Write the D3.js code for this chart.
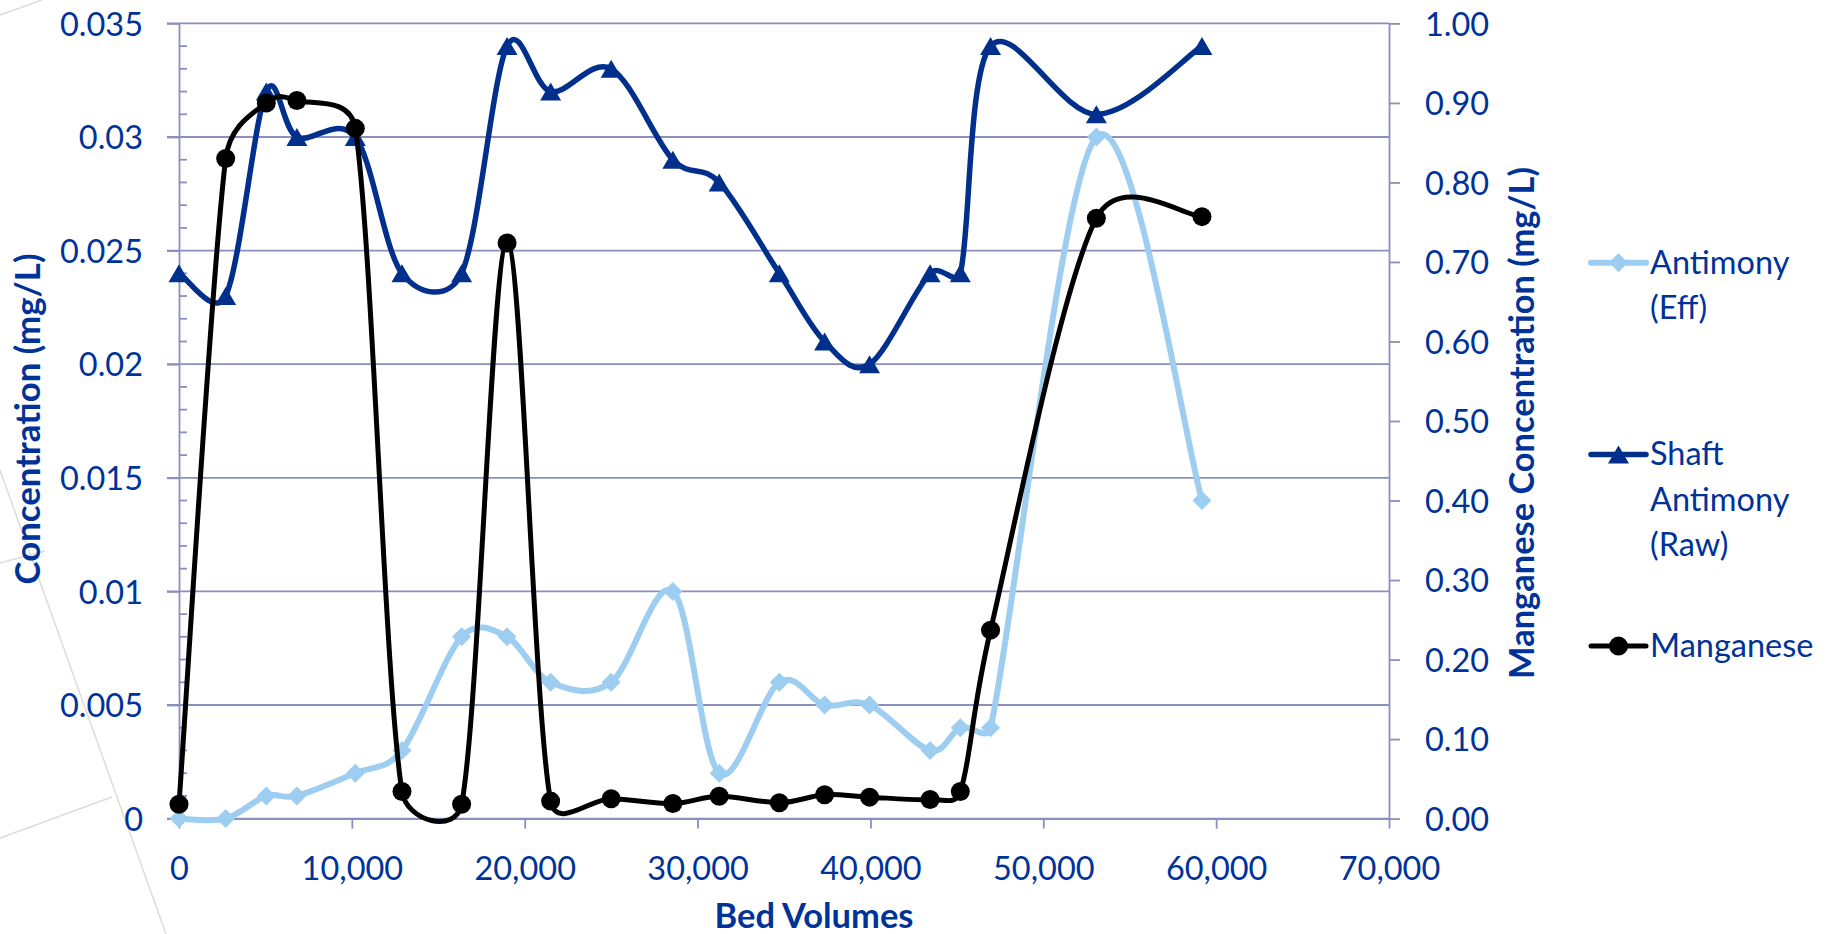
<!DOCTYPE html>
<html>
<head>
<meta charset="utf-8">
<script src="https://cdn.jsdelivr.net/npm/d3@7"></script>
<style>
  html, body { margin: 0; padding: 0; background: #ffffff; }
  svg { display: block; }
  text { font-family: Lato, "Open Sans", sans-serif; }
</style>
</head>
<body>
<svg id="chart" width="1831" height="934"></svg>
<script>
// ---------------- DATA ----------------
const bedVolumes = [0, 2700, 5050, 6820, 10200, 12900, 16350, 18980, 21500, 25000,
                    28570, 31250, 34730, 37350, 39950, 43450, 45200, 46950, 53070, 59180];
const antimonyEff = [0, 0, 0.001, 0.001, 0.002, 0.003, 0.008, 0.008, 0.006, 0.006,
                     0.010, 0.002, 0.006, 0.005, 0.005, 0.003, 0.004, 0.004, 0.030, 0.014];
const shaftAntimonyRaw = [0.024, 0.023, 0.032, 0.030, 0.030, 0.024, 0.024, 0.034, 0.032, 0.033,
                          0.029, 0.028, 0.024, 0.021, 0.020, 0.024, 0.024, 0.034, 0.031, 0.034];
const manganese = [0.018, 0.83, 0.90, 0.903, 0.868, 0.034, 0.018, 0.724, 0.022, 0.025,
                   0.019, 0.028, 0.020, 0.030, 0.027, 0.024, 0.034, 0.237, 0.755, 0.757];
const seriesNames = ["Antimony (Eff)", "Shaft Antimony (Raw)", "Manganese"];
const xTickValues = [0, 10000, 20000, 30000, 40000, 50000, 60000, 70000];
const xTickLabels = ["0", "10,000", "20,000", "30,000", "40,000", "50,000", "60,000", "70,000"];
const yLeftTickValues = [0, 0.005, 0.01, 0.015, 0.02, 0.025, 0.03, 0.035];
const yLeftTickLabels = ["0", "0.005", "0.01", "0.015", "0.02", "0.025", "0.03", "0.035"];
const yRightTickValues = [0, 0.1, 0.2, 0.3, 0.4, 0.5, 0.6, 0.7, 0.8, 0.9, 1.0];
const yRightTickLabels = ["0.00", "0.10", "0.20", "0.30", "0.40", "0.50", "0.60", "0.70", "0.80", "0.90", "1.00"];
const xTitle = "Bed Volumes";
const yLeftTitle = "Concentration (mg/L)";
const yRightTitle = "Manganese Concentration (mg/L)";

// ---------------- LAYOUT / STYLE ----------------
const W = 1831, H = 934;
const plot = { left: 179, right: 1389, top: 23.4, bottom: 818.6 };
const textColor = "#003399";
const gridColor = "#8a8fbe";
const colors = { eff: "#9dcdf0", raw: "#00308c", mn: "#000000" };

const svg = d3.select("#chart");

// faint background decoration lines present in the source image
const deco = svg.append("g").attr("stroke", "#dcdcdc").attr("stroke-width", 1.5).attr("fill", "none");
[[[0, 15], [42, 0]], [[0, 470], [166, 934]], [[0, 563], [45, 551]], [[0, 838], [112, 797]]]
  .forEach(s => deco.append("line").attr("x1", s[0][0]).attr("y1", s[0][1]).attr("x2", s[1][0]).attr("y2", s[1][1]));

const x = d3.scaleLinear().domain([0, 70000]).range([plot.left, plot.right]);
const yL = d3.scaleLinear().domain([0, 0.035]).range([plot.bottom, plot.top]);
const yR = d3.scaleLinear().domain([0, 1]).range([plot.bottom, plot.top]);

// font fitting helper (Calibri substitute)
function measure(str, size, weight) {
  const t = svg.append("text").attr("font-size", size).attr("font-weight", weight || "normal").text(str);
  const w = t.node().getComputedTextLength();
  t.remove();
  return w;
}
const baseSize = 100 * 83 / measure("0.035", 100);       // regular text size
const fitBold = (str, target) => 100 * target / measure(str, 100, "bold");

// gridlines (left axis majors)
svg.append("g").selectAll("line").data(yLeftTickValues).join("line")
  .attr("x1", plot.left - 12).attr("x2", plot.right)
  .attr("y1", d => yL(d)).attr("y2", d => yL(d))
  .attr("stroke", gridColor).attr("stroke-width", 1.8);

// left axis
const leftAxis = svg.append("g").attr("transform", `translate(${plot.left},0)`)
  .call(d3.axisLeft(yL).tickValues(yLeftTickValues).tickSize(12).tickSizeOuter(0).tickPadding(24)
    .tickFormat((d, i) => yLeftTickLabels[i]));
// minor ticks inside
const minorVals = d3.range(0, 35).map(i => i / 1000).filter(v => Math.round(v * 1000) % 5 !== 0);
svg.append("g").selectAll("line").data(minorVals).join("line")
  .attr("x1", plot.left).attr("x2", plot.left + 8)
  .attr("y1", d => yL(d)).attr("y2", d => yL(d))
  .attr("stroke", gridColor).attr("stroke-width", 1.8);

// right axis
const rightAxis = svg.append("g").attr("transform", `translate(${plot.right},0)`)
  .call(d3.axisRight(yR).tickValues(yRightTickValues).tickSize(11).tickSizeOuter(0).tickPadding(25)
    .tickFormat((d, i) => yRightTickLabels[i]));

// bottom axis
const bottomAxis = svg.append("g").attr("transform", `translate(0,${plot.bottom})`)
  .call(d3.axisBottom(x).tickValues(xTickValues).tickSize(10).tickSizeOuter(0).tickPadding(28)
    .tickFormat((d, i) => xTickLabels[i]));

[leftAxis, rightAxis, bottomAxis].forEach(a => {
  a.select(".domain").attr("stroke", gridColor).attr("stroke-width", 1.8);
  a.selectAll(".tick line").attr("stroke", gridColor).attr("stroke-width", 1.8);
  a.selectAll(".tick text").attr("fill", textColor).attr("font-size", baseSize)
    .attr("font-family", "Lato, sans-serif");
});
leftAxis.selectAll(".tick text").attr("dy", "0.36em");
rightAxis.selectAll(".tick text").attr("dy", "0.36em");
bottomAxis.selectAll(".tick text").attr("dy", "0.71em");

// ---------------- Excel-like smoothing curve ----------------
function ExcelSmooth(context) { this._context = context; }
ExcelSmooth.prototype = {
  areaStart() {}, areaEnd() {},
  lineStart() { this._pts = []; },
  point(px, py) { this._pts.push([+px, +py]); },
  lineEnd() {
    const p = this._pts, n = p.length, c = this._context;
    if (!n) return;
    c.moveTo(p[0][0], p[0][1]);
    const cap = (t, lim) => {
      const l = Math.hypot(t[0], t[1]);
      if (l > lim && l > 0) { const s = lim / l; return [t[0] * s, t[1] * s]; }
      return t;
    };
    for (let i = 0; i < n - 1; i++) {
      const p0 = p[Math.max(0, i - 1)], p1 = p[i], p2 = p[i + 1], p3 = p[Math.min(n - 1, i + 2)];
      const d12 = Math.hypot(p2[0] - p1[0], p2[1] - p1[1]);
      const t1 = cap([(p2[0] - p0[0]) / 6, (p2[1] - p0[1]) / 6], d12 / 2);
      const t2 = cap([(p3[0] - p1[0]) / 6, (p3[1] - p1[1]) / 6], d12 / 2);
      c.bezierCurveTo(p1[0] + t1[0], p1[1] + t1[1], p2[0] - t2[0], p2[1] - t2[1], p2[0], p2[1]);
    }
  }
};
const curveExcel = ctx => new ExcelSmooth(ctx);

// markers
const markerPath = {
  diamond: "M0,-9.5L9.5,0L0,9.5L-9.5,0Z",
  triangle: "M0,-9L10.5,9L-10.5,9Z"
};

const series = [
  { name: seriesNames[0], values: antimonyEff, y: yL, color: colors.eff, width: 6, marker: "diamond" },
  { name: seriesNames[1], values: shaftAntimonyRaw, y: yL, color: colors.raw, width: 5.5, marker: "triangle" },
  { name: seriesNames[2], values: manganese, y: yR, color: colors.mn, width: 5, marker: "circle" }
];

function drawMarker(g, type, color) {
  if (type === "circle") g.append("circle").attr("r", 9.5).attr("fill", color);
  else g.append("path").attr("d", markerPath[type]).attr("fill", color);
}

series.forEach(s => {
  const pts = bedVolumes.map((b, i) => [b, s.values[i]]);
  const line = d3.line().x(d => x(d[0])).y(d => s.y(d[1])).curve(curveExcel);
  const g = svg.append("g");
  g.append("path").datum(pts).attr("d", line).attr("fill", "none")
    .attr("stroke", s.color).attr("stroke-width", s.width).attr("stroke-linejoin", "round");
  g.selectAll("g.m").data(pts).join("g").attr("class", "m")
    .attr("transform", d => `translate(${x(d[0])},${s.y(d[1])})`)
    .each(function () { drawMarker(d3.select(this), s.marker, s.color); });
});

// ---------------- titles ----------------
svg.append("text").attr("x", 814).attr("y", 928).attr("text-anchor", "middle")
  .attr("font-weight", "bold").attr("font-size", fitBold(xTitle, 199)).attr("fill", textColor).text(xTitle);
svg.append("text").attr("transform", "translate(40,419) rotate(-90)").attr("text-anchor", "middle")
  .attr("font-weight", "bold").attr("font-size", fitBold(yLeftTitle, 331)).attr("fill", textColor).text(yLeftTitle);
svg.append("text").attr("transform", "translate(1534,423) rotate(-90)").attr("text-anchor", "middle")
  .attr("font-weight", "bold").attr("font-size", fitBold(yRightTitle, 512)).attr("fill", textColor).text(yRightTitle);

// ---------------- legend ----------------
const legend = { x0: 1591, x1: 1646, textX: 1650, top: 262.7, step: 191.7, lineH: 45.5, wrap: 178 };
function wrapWords(str, maxW, size) {
  const words = str.split(" "), lines = [];
  let cur = "";
  words.forEach(w => {
    const test = cur ? cur + " " + w : w;
    if (cur && measure(test, size) > maxW) { lines.push(cur); cur = w; } else cur = test;
  });
  if (cur) lines.push(cur);
  return lines;
}
series.forEach((s, i) => {
  const cy = legend.top + i * legend.step;
  const g = svg.append("g");
  g.append("line").attr("x1", legend.x0).attr("x2", legend.x1).attr("y1", cy).attr("y2", cy)
    .attr("stroke", s.color).attr("stroke-width", s.width).attr("stroke-linecap", "round");
  drawMarker(g.append("g").attr("transform", `translate(${(legend.x0 + legend.x1) / 2},${cy})`), s.marker, s.color);
  const lines = wrapWords(s.name, legend.wrap, baseSize);
  const t = g.append("text").attr("fill", textColor).attr("font-size", baseSize);
  lines.forEach((ln, j) => t.append("tspan").attr("x", legend.textX).attr("y", cy + 11 + j * legend.lineH).text(ln));
});
</script>
</body>
</html>
